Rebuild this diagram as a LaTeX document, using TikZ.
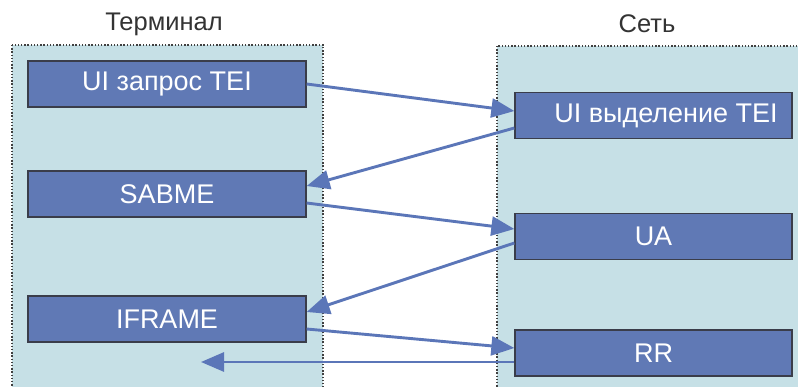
\documentclass[tikz,border=0pt]{standalone}
\usepackage{fontspec}
\setmainfont{Liberation Sans}
\usetikzlibrary{arrows.meta}
\definecolor{panelfill}{HTML}{C6E0E6}
\definecolor{boxfill}{HTML}{6079B5}
\definecolor{boxedge}{HTML}{3A3D4A}
\definecolor{linecol}{HTML}{5B76B8}
\definecolor{titlecol}{HTML}{333333}
\tikzset{
  panel/.style={fill=panelfill, draw=black!75, line width=1.4pt, dash pattern=on 1.4pt off 1.8pt},
  msgbox/.style={draw=boxedge, line width=1.3pt, fill=boxfill, text=white, minimum height=46pt,
     inner sep=0pt, font=\fontsize{27}{32}\selectfont},
  paneltitle/.style={text=titlecol, font=\fontsize{25.5}{30}\selectfont},
  msg/.style={draw=linecol, line width=2.9pt, -{Triangle[length=23pt,width=19pt]}}
}
\begin{document}
\begin{tikzpicture}[x=1pt,y=-1pt]
\useasboundingbox (0,0) rectangle (798,387);
\begin{scope}
\clip (0,0) rectangle (798,387);
\draw[panel] (12,45) rectangle (323,400);
\draw[panel] (497,46) rectangle (810,400);
\end{scope}
\node[paneltitle] (t1) at (164,24) {Терминал};
\node[paneltitle] (t2) at (647,24) {Сеть};
\node[msgbox, minimum width=278pt] (ui1) at (167,84) {UI запрос TEI};
\node[msgbox, minimum width=278pt] (sabme) at (167,194) {SABME};
\node[msgbox, minimum width=278pt] (iframe) at (167,319) {IFRAME};
\node[msgbox, minimum width=277pt] (net1) at (653.5,115.5) {\hspace*{25pt}UI выделение TEI};
\node[msgbox, minimum width=277pt] (ua) at (653.5,236.5) {UA};
\node[msgbox, minimum width=277pt] (rr) at (653.5,353) {RR};
\coordinate (lost) at (201,362);
\draw[msg] (ui1.east) -- ([yshift=4.5pt]net1.west);
\draw[msg] ([yshift=-12.5pt]net1.west) -- ([yshift=8pt]sabme.east);
\draw[msg] ([yshift=-9pt]sabme.east) -- ([yshift=7.5pt]ua.west);
\draw[msg] ([yshift=-6.5pt]ua.west) -- ([yshift=7pt]iframe.east);
\draw[msg] ([yshift=-10pt]iframe.east) -- ([yshift=5pt]rr.west);
\draw[msg] ([yshift=-9pt]rr.west) -- (lost);
\end{tikzpicture}
\end{document}
